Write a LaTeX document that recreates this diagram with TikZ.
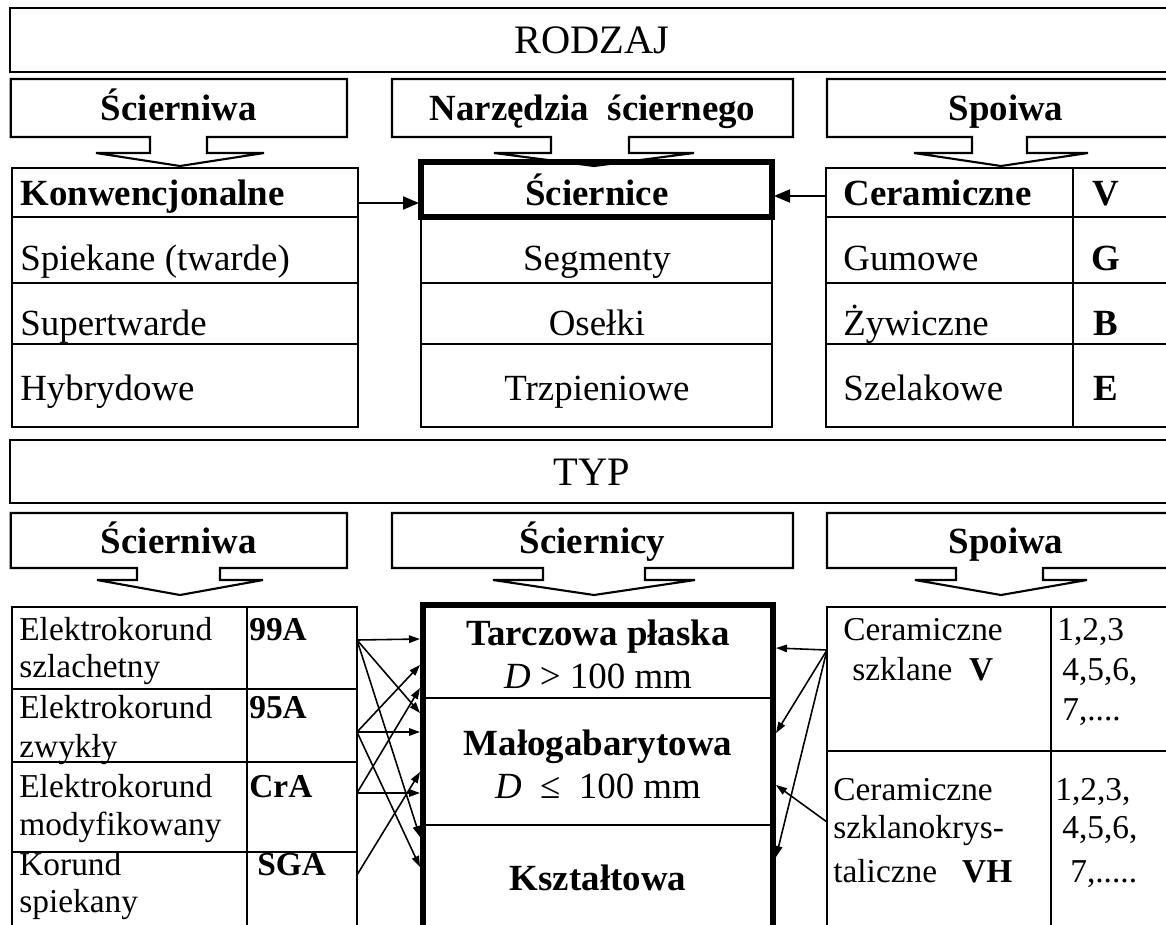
\documentclass[tikz,border=0pt]{standalone}
\usepackage{fontspec}
\setmainfont{Liberation Serif}
\usetikzlibrary{arrows.meta}

\begin{document}
\begin{tikzpicture}[
  x=0.02cm, y=-0.02cm,
  frame/.style={draw=black, line width=1.2pt},
  thickframe/.style={draw=black, line width=3pt},
  callout/.style={draw=black, line width=1.2pt, line join=miter},
  title/.style={font=\fontsize{23}{27}\selectfont, inner sep=0pt},
  head/.style={font=\fontsize{21}{25}\selectfont\bfseries, inner sep=0pt},
  item/.style={font=\fontsize{21}{25}\selectfont, inner sep=0pt},
  itemb/.style={font=\fontsize{21}{25}\selectfont\bfseries, inner sep=0pt},
  sm/.style={font=\fontsize{19}{23}\selectfont, inner sep=0pt},
  smb/.style={font=\fontsize{19}{23}\selectfont\bfseries, inner sep=0pt},
  bigarr/.style={-{Triangle[length=3.2mm, width=2.6mm]}, line width=1.2pt},
  link/.style={-{Triangle[length=2.2mm, width=1.5mm]}, line width=0.9pt}
]
\useasboundingbox (0,0) rectangle (1166,924);
\clip (0,0) rectangle (1166,924);

% RODZAJ
\draw[frame] (10,8) rectangle (1185,72);
\node[title, anchor=base] (rodzaj) at (592,53) {RODZAJ};

% callouts, upper row
\def\ytop{79}\def\ybot{137}\def\yneck{153}\def\ytip{166}
\foreach \nm/\xa/\xb/\na/\nb/\wa/\wb/\txt in {
  abr/10.7/347/150/207/96/264/Ścierniwa,
  tool/392/793/551/629/494/694/Narzędzia\ \ ściernego,
  bond/827/1185/972/1027/914/1088/Spoiwa} {
  \draw[callout] (\xa,\ytop) -- (\xb,\ytop) -- (\xb,\ybot) -- (\nb,\ybot) -- (\nb,\yneck)
    -- (\wb,\yneck) -- ({(\wa+\wb)/2},\ytip) -- (\wa,\yneck) -- (\na,\yneck) -- (\na,\ybot)
    -- (\xa,\ybot) -- cycle;
  \node[head, anchor=base] (\nm) at ({(\xa+\xb)/2},120) {\txt};
}

% abrasives
\draw[frame] (11.7,168) rectangle (358,427);
\foreach \y in {217,283,344} \draw[frame] (11.7,\y) -- (358,\y);
\node[itemb, anchor=base west] (konw) at (20,205) {Konwencjonalne};
\node[item, anchor=base west] (spiek) at (20,270) {Spiekane (twarde)};
\node[item, anchor=base west] (supert) at (20,335) {Supertwarde};
\node[item, anchor=base west] (hybr) at (20,400) {Hybrydowe};

% tools
\draw[frame] (421,217) rectangle (772,427);
\foreach \y in {283,344} \draw[frame] (421,\y) -- (772,\y);
\draw[thickframe] (421,162) rectangle (772,217);
\node[itemb, anchor=base] (scn) at (597,205) {Ściernice};
\node[item, anchor=base] (segm) at (597,270) {Segmenty};
\node[item, anchor=base] (osel) at (597,335) {Osełki};
\node[item, anchor=base] (trzp) at (597,400) {Trzpieniowe};

% bonds
\draw[frame] (826,168) rectangle (1185,427);
\draw[frame] (1073,168) -- (1073,427);
\foreach \y in {217,283,344} \draw[frame] (826,\y) -- (1185,\y);
\foreach \nm/\y/\txt/\sym in {cer/205/\textbf{Ceramiczne}/V, gum/270/Gumowe/G,
                              zyw/335/Żywiczne/B, szel/400/Szelakowe/E} {
  \node[item, anchor=base west] (\nm) at (843,\y) {\txt};
  \node[itemb, anchor=base] (\nm-s) at (1106,\y) {\sym};
}

\coordinate (konwE) at (358,203);
\coordinate (scnW) at (419,203);
\coordinate (cerW) at (826,196);
\coordinate (scnE) at (774,196);
\draw[bigarr] (konwE) -- (scnW);
\draw[bigarr] (cerW) -- (scnE);

% TYP
\draw[frame] (10,440) rectangle (1185,503);
\node[title, anchor=base] (typ) at (592,485) {TYP};

% callouts, lower row
\def\ytop{513}\def\ybot{568}\def\yneck{580}\def\ytip{595}
\foreach \nm/\xa/\xb/\na/\nb/\wa/\wb/\txt in {
  abr2/10.7/347/137/220/97/263/Ścierniwa,
  whl/392/793/543/645/493/695/Ściernicy,
  bond2/827/1185/956/1043/915/1087/Spoiwa} {
  \draw[callout] (\xa,\ytop) -- (\xb,\ytop) -- (\xb,\ybot) -- (\nb,\ybot) -- (\nb,\yneck)
    -- (\wb,\yneck) -- ({(\wa+\wb)/2},\ytip) -- (\wa,\yneck) -- (\na,\yneck) -- (\na,\ybot)
    -- (\xa,\ybot) -- cycle;
  \node[head, anchor=base] (\nm) at ({(\xa+\xb)/2},553) {\txt};
}

% abrasive grains
\draw[frame] (11.7,607) rectangle (357,960);
\draw[frame] (247,607) -- (247,960);
\foreach \y in {689,762,852} \draw[frame] (11.7,\y) -- (357,\y);
\node[sm, anchor=base west] (ek1) at (19,640) {Elektrokorund};
\node[sm, anchor=base west] (ek1b) at (19,677) {szlachetny};
\node[smb, anchor=base west] (c99) at (249,640) {99A};
\node[sm, anchor=base west] (ek2) at (19,718) {Elektrokorund};
\node[sm, anchor=base west] (ek2b) at (19,757) {zwykły};
\node[smb, anchor=base west] (c95) at (249,718) {95A};
\node[sm, anchor=base west] (ek3) at (19,797) {Elektrokorund};
\node[sm, anchor=base west] (ek3b) at (19,835) {modyfikowany};
\node[smb, anchor=base west] (ccr) at (249,797) {CrA};
\node[sm, anchor=base west] (kor) at (19,875) {Korund};
\node[sm, anchor=base west] (korb) at (19,912) {spiekany};
\node[smb, anchor=base west] (csg) at (257,875) {SGA};

% wheel types
\draw[thickframe] (423,605) rectangle (773,960);
\draw[frame] (423,698) -- (773,698);
\draw[frame] (423,825) -- (773,825);
\node[itemb, anchor=base] (tarcz) at (598,645) {Tarczowa płaska};
\node[item, anchor=base] (tarczd) at (598,688) {\textit{D} > 100 mm};
\node[itemb, anchor=base] (malo) at (598,755) {Małogabarytowa};
\node[item, anchor=base] (malod) at (598,798) {\textit{D}\ \ ≤\ \ 100 mm};
\node[itemb, anchor=base] (kszt) at (598,890) {Kształtowa};

% vitrified bonds
\draw[frame] (827,607) rectangle (1185,960);
\draw[frame] (1051,607) -- (1051,960);
\draw[frame] (827,751) -- (1185,751);
\node[sm, anchor=base west] (vit1) at (843,640) {Ceramiczne};
\node[sm, anchor=base west] (vit1b) at (852,680) {szklane\ \ \textbf{V}};
\node[sm, anchor=base west] (n1a) at (1057,640) {1,2,3};
\node[sm, anchor=base west] (n1b) at (1062,680) {4,5,6,};
\node[sm, anchor=base west] (n1c) at (1062,720) {7,....};
\node[sm, anchor=base west] (vit2) at (833,800) {Ceramiczne};
\node[sm, anchor=base west] (vit2b) at (833,838) {szklanokrys-};
\node[sm, anchor=base west] (vit2c) at (833,882) {taliczne\ \ \ \textbf{VH}};
\node[sm, anchor=base west] (n2a) at (1055,800) {1,2,3,};
\node[sm, anchor=base west] (n2b) at (1062,838) {4,5,6,};
\node[sm, anchor=base west] (n2c) at (1070,882) {7,.....};

% grain -> wheel links
\foreach \i/\y in {1/640, 2/732, 3/793, 4/875} \coordinate (s\i) at (357,\y);
\foreach \j/\y in {1/639, 2/665, 3/688, 4/713, 5/732, 6/772, 7/793, 8/837, 9/867}
  \coordinate (t\j) at (420,\y);
\foreach \a/\b in {1/1, 1/4, 1/8, 2/2, 2/5, 2/9, 3/3, 3/7, 4/6}
  \draw[link] (s\a) -- (t\b);

% bond -> wheel links
\coordinate (r1) at (827,650);
\coordinate (r2) at (827,822);
\foreach \j/\y in {1/648, 2/733, 3/857, 4/785} \coordinate (u\j) at (776,\y);
\foreach \a/\b in {1/1, 1/2, 1/3, 2/4}
  \draw[link] (r\a) -- (u\b);
\end{tikzpicture}
\end{document}
